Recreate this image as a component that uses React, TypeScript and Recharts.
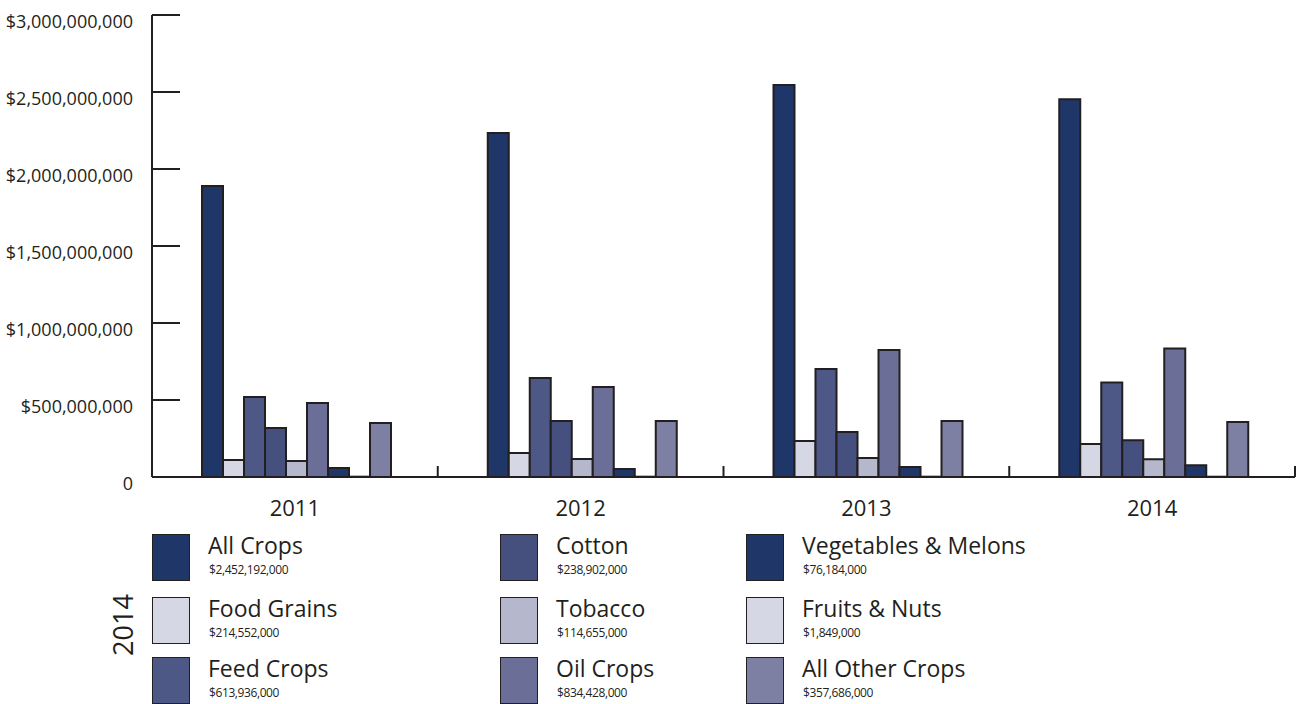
import React from "react";
import { BarChart, Bar, XAxis, YAxis } from "recharts";

// values per year (2014 = legend figures)
const YEARS = ["2011", "2012", "2013", "2014"];
const ALL_CROPS = [1890e6, 2234e6, 2545e6, 2452192000];
const FOOD_GRAINS = [110e6, 156e6, 234e6, 214552000];
const FEED_CROPS = [520e6, 643e6, 701e6, 613936000];
const COTTON = [318e6, 364e6, 292e6, 238902000];
const TOBACCO = [104e6, 117e6, 123e6, 114655000];
const OIL_CROPS = [480e6, 584e6, 825e6, 834428000];
const VEG_MELONS = [58e6, 52e6, 65e6, 76184000];
const FRUITS_NUTS = [2e6, 2e6, 2e6, 1849000];
const ALL_OTHER = [350e6, 364e6, 364e6, 357686000];

const Y_TICKS = [0, 500e6, 1000e6, 1500e6, 2000e6, 2500e6, 3000e6];

const SERIES = [
  { key: "allCrops", name: "All Crops", values: ALL_CROPS, color: "#1f3669" },
  { key: "foodGrains", name: "Food Grains", values: FOOD_GRAINS, color: "#d6d7e4" },
  { key: "feedCrops", name: "Feed Crops", values: FEED_CROPS, color: "#4e5886" },
  { key: "cotton", name: "Cotton", values: COTTON, color: "#45507f" },
  { key: "tobacco", name: "Tobacco", values: TOBACCO, color: "#b5b7cc" },
  { key: "oilCrops", name: "Oil Crops", values: OIL_CROPS, color: "#6b6e96" },
  { key: "vegMelons", name: "Vegetables & Melons", values: VEG_MELONS, color: "#1f3669" },
  { key: "fruitsNuts", name: "Fruits & Nuts", values: FRUITS_NUTS, color: "#d6d7e4" },
  { key: "allOther", name: "All Other Crops", values: ALL_OTHER, color: "#7e80a3" },
];

const data = YEARS.map((year, i) => {
  const row: Record<string, string | number> = { year };
  SERIES.forEach((s) => (row[s.key] = s.values[i]));
  return row;
});

const INK = "#231f20";
const FONT = "'Open Sans', 'Noto Sans', sans-serif";
const CHART_W = 1298;
const CHART_H = 530;
const Y_AXIS_W = 152;
const MARGIN_RIGHT = 3;
const BAND = (CHART_W - Y_AXIS_W - MARGIN_RIGHT) / YEARS.length;

const fmtMoney = (v: number) => (v === 0 ? "0" : "$" + v.toLocaleString("en-US"));

const YTick = (props: any) => {
  const { x, y, payload } = props;
  return (
    <g>
      <line x1={x} x2={x + 28} y1={y} y2={y} stroke={INK} strokeWidth={2} />
      <text x={x - 19} y={y + 13} textAnchor="end" fontSize={18} fill={INK} fontFamily={FONT}>
        {fmtMoney(payload.value)}
      </text>
    </g>
  );
};

const XTick = (props: any) => {
  const { x, y, payload } = props;
  const right = x + BAND / 2;
  return (
    <g>
      <line x1={right} x2={right} y1={y - 11} y2={y} stroke={INK} strokeWidth={2} />
      <text x={x} y={y + 39} textAnchor="middle" fontSize={22} fill={INK} fontFamily={FONT}>
        {payload.value}
      </text>
    </g>
  );
};

// legend columns/rows: SERIES index order fills column by column
const LEGEND_COLS = [152, 500, 746];
const LEGEND_ROWS = [534, 597, 657];

export default function App() {
  return (
    <div style={{ position: "absolute", left: 0, top: 0, width: CHART_W, height: 704, background: "#fff", fontFamily: FONT, color: INK, overflow: "hidden" }}>
      <BarChart
        width={CHART_W}
        height={CHART_H}
        data={data}
        margin={{ top: 15, right: MARGIN_RIGHT, bottom: 0, left: 0 }}
        barCategoryGap="17.5%"
        barGap={0}
      >
        <XAxis
          dataKey="year"
          height={CHART_H - 15 - 462}
          tickSize={0}
          tickMargin={0}
          tick={<XTick />}
          axisLine={{ stroke: INK, strokeWidth: 2 }}
          tickLine={false}
        />
        <YAxis
          width={Y_AXIS_W}
          domain={[0, 3000e6]}
          ticks={Y_TICKS}
          interval={0}
          tickSize={0}
          tickMargin={0}
          tick={<YTick />}
          axisLine={{ stroke: INK, strokeWidth: 2 }}
          tickLine={false}
        />
        {SERIES.map((s) => (
          <Bar key={s.key} dataKey={s.key} name={s.name} fill={s.color} stroke={INK} strokeWidth={2} isAnimationActive={false} />
        ))}
      </BarChart>

      <div
        style={{
          position: "absolute",
          left: 122,
          top: 625,
          transform: "translate(-50%, -50%) rotate(-90deg)",
          fontSize: 27,
          lineHeight: "27px",
        }}
      >
        2014
      </div>

      {SERIES.map((s, i) => {
        const col = Math.floor(i / 3);
        const row = i % 3;
        const left = LEGEND_COLS[col];
        const top = LEGEND_ROWS[row];
        const last = s.values[s.values.length - 1];
        return (
          <div key={s.key} style={{ position: "absolute", left, top }}>
            <div
              style={{
                position: "absolute",
                left: 0,
                top: 0,
                width: 36,
                height: 45,
                background: s.color,
                border: `1.5px solid ${INK}`,
              }}
            />
            <div style={{ position: "absolute", left: 56, top: -3, fontSize: 23, lineHeight: "28px", whiteSpace: "nowrap" }}>
              {s.name}
            </div>
            <div style={{ position: "absolute", left: 57, top: 28, fontSize: 12, letterSpacing: -0.4, lineHeight: "16px", whiteSpace: "nowrap" }}>
              {fmtMoney(last)}
            </div>
          </div>
        );
      })}
    </div>
  );
}
